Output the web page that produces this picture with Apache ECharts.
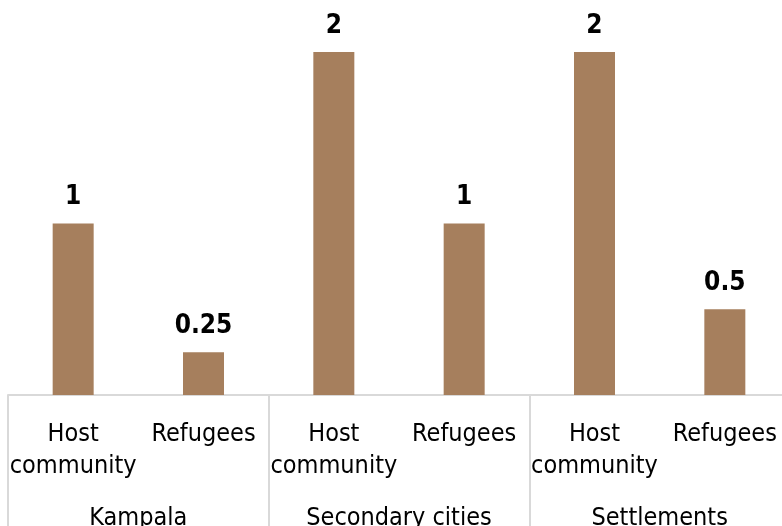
<!DOCTYPE html>
<html><head><meta charset="utf-8">
<script src="https://cdn.jsdelivr.net/npm/echarts@6/dist/echarts.min.js"></script>
<style>html,body{margin:0;padding:0;background:#fff}#c{width:782px;height:526px}</style>
</head><body><div id="c"></div>
<script>
var subCategories = ['Host\ncommunity','Refugees','Host\ncommunity','Refugees','Host\ncommunity','Refugees'];
var groups = ['Kampala','Secondary cities','Settlements'];
var values = [1, 0.25, 2, 1, 2, 0.5];
var valueLabels = ['1','0.25','2','1','2','0.5'];

var chart = echarts.init(document.getElementById('c'));
var font = '"DejaVu Sans Condensed", "DejaVu Sans"';
chart.setOption({
  animation:false,
  grid:{left:8, width:782, top:52, bottom:131, containLabel:false, outerBoundsMode:'none'},
  xAxis:[{
    type:'category', data:subCategories, position:'bottom',
    axisLine:{show:true, lineStyle:{color:'#d9d9d9', width:2}},
    axisTick:{show:false},
    axisLabel:{interval:0, margin:23, fontFamily:font, fontSize:25, lineHeight:32, color:'#000'}
  },{
    type:'category', data:groups, position:'bottom',
    axisLine:{show:false},
    axisTick:{show:true, length:131, lineStyle:{color:'#d9d9d9', width:2}},
    axisLabel:{interval:0, margin:107, fontFamily:font, fontSize:25, lineHeight:32, color:'#000'}
  }],
  yAxis:{type:'value', min:0, max:2, show:false, splitLine:{show:false}},
  series:[{
    type:'bar', data:values, barWidth:41, xAxisIndex:0,
    itemStyle:{color:'#A67F5D'},
    label:{show:true, position:'top', distance:13, fontFamily:font, fontWeight:'bold', fontSize:26, color:'#000',
      formatter:function(p){return valueLabels[p.dataIndex];}}
  }]
});
</script></body></html>
